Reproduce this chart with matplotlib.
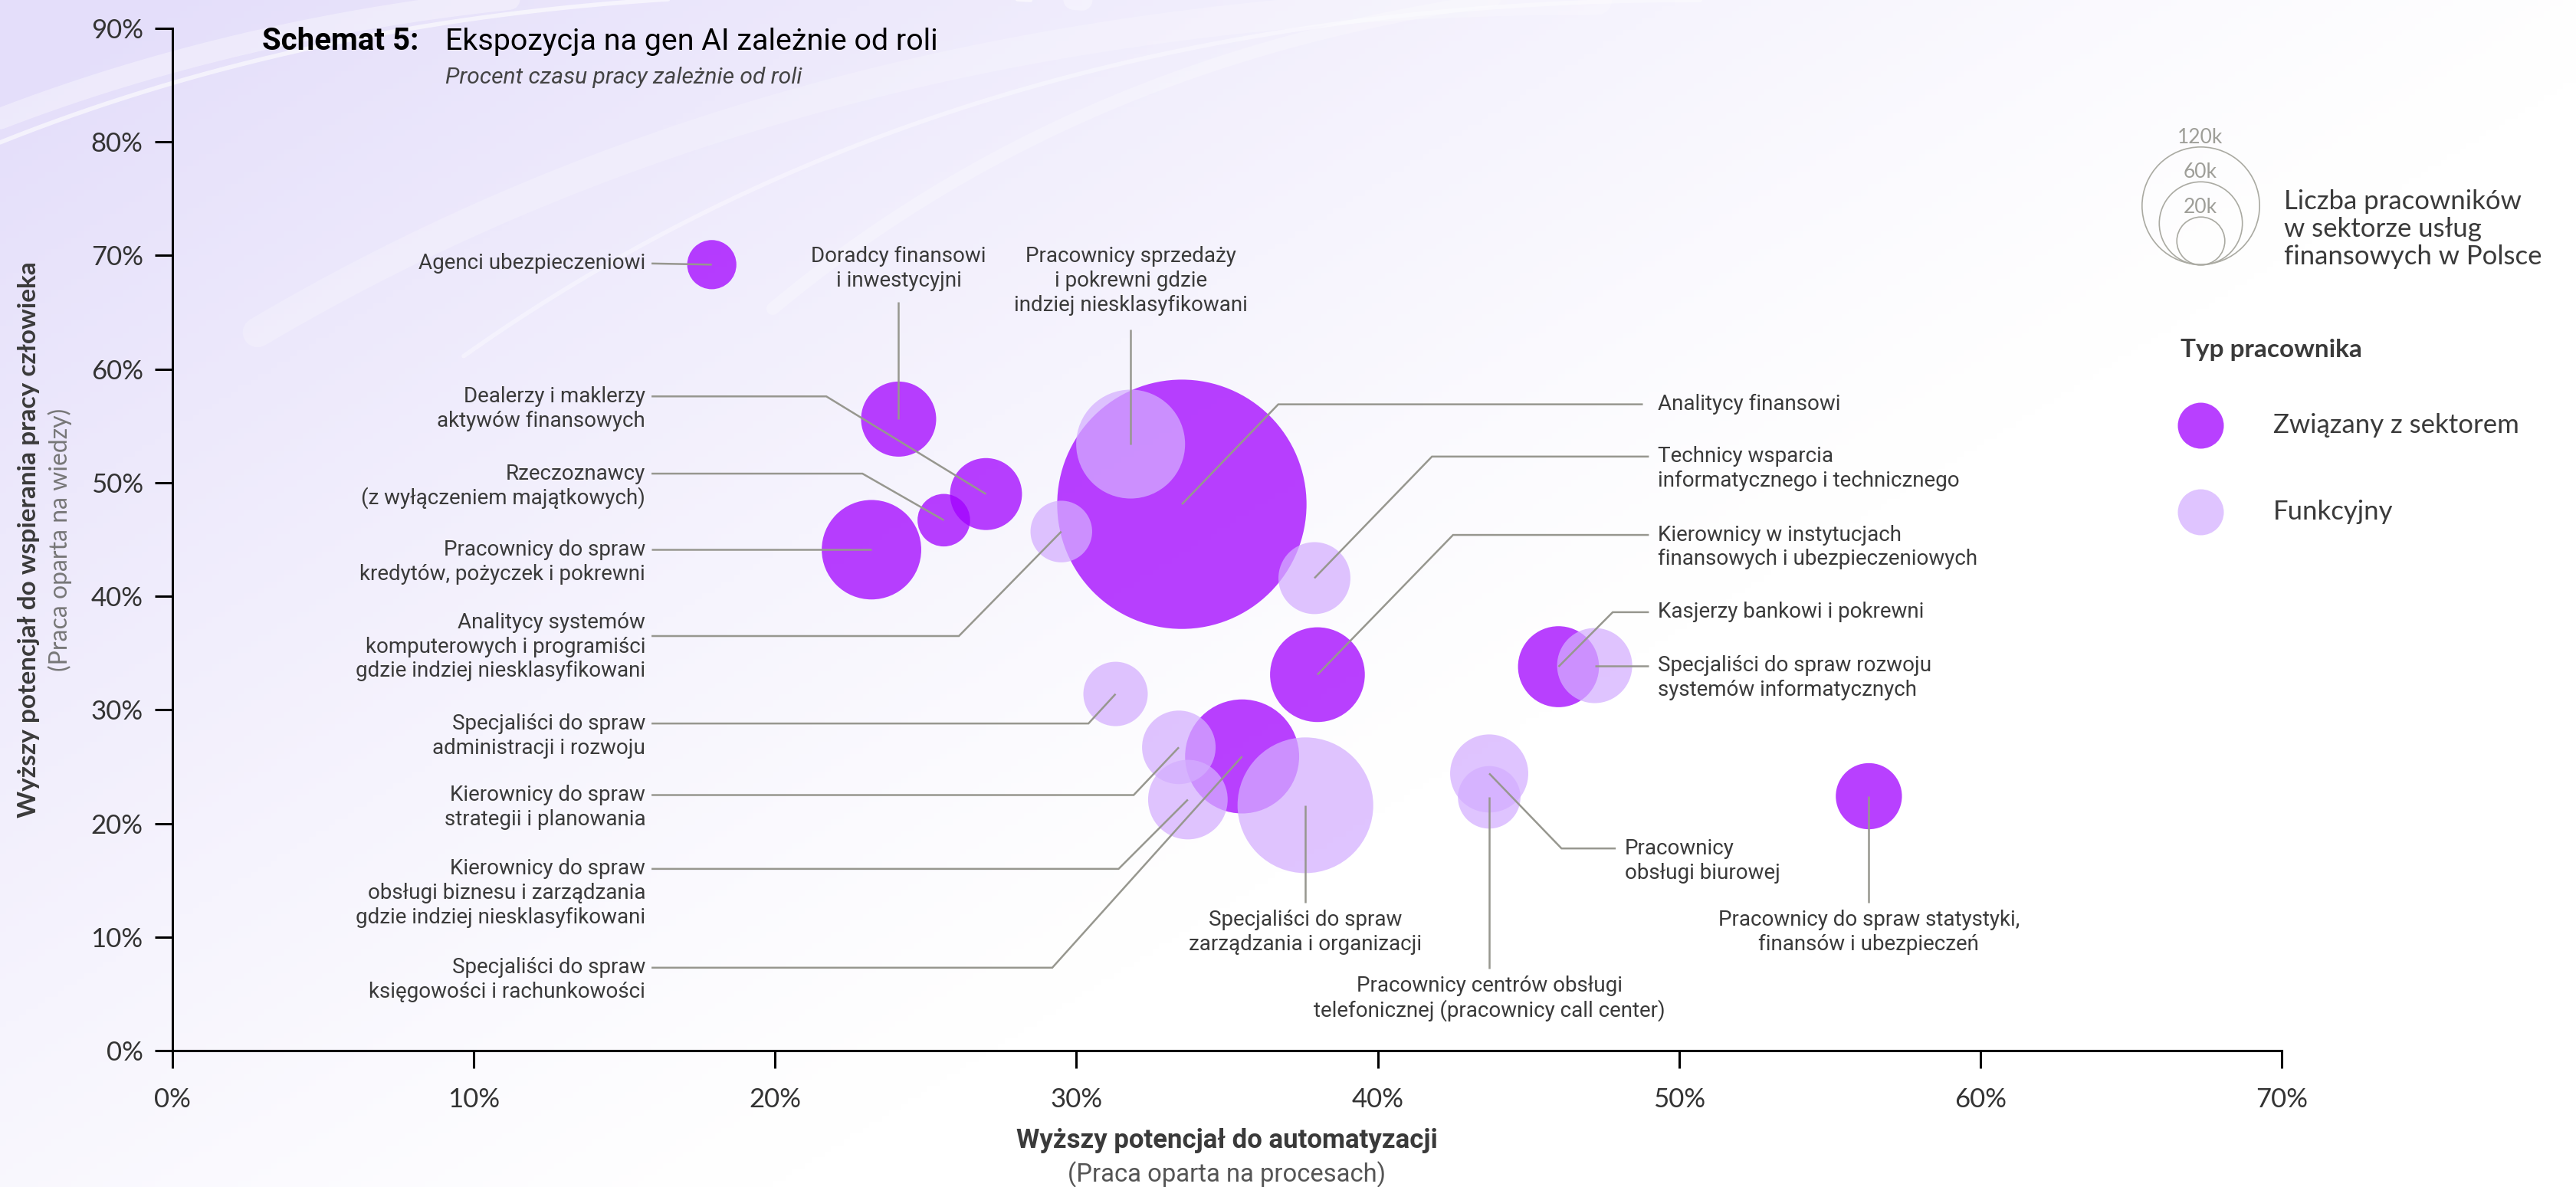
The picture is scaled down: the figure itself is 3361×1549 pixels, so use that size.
import numpy as np
import matplotlib.pyplot as plt
from matplotlib.ticker import FuncFormatter

#===============================================================================
# Data
#===============================================================================

roles = [
    'Agenci ubezpieczeniowi',
    'Doradcy finansowi\ni inwestycyjni',
    'Dealerzy i maklerzy\naktywów finansowych',
    'Rzeczoznawcy\n(z wyłączeniem majątkowych)',
    'Pracownicy do spraw\nkredytów, pożyczek i pokrewni',
    'Analitycy systemów\nkomputerowych i programiści\ngdzie indziej niesklasyfikowani',
    'Pracownicy sprzedaży\ni pokrewni gdzie\nindziej niesklasyfikowani',
    'Analitycy finansowi',
    'Technicy wsparcia\ninformatycznego i technicznego',
    'Kierownicy w instytucjach\nfinansowych i ubezpieczeniowych',
    'Kasjerzy bankowi i pokrewni',
    'Specjaliści do spraw rozwoju\nsystemów informatycznych',
    'Specjaliści do spraw\nadministracji i rozwoju',
    'Kierownicy do spraw\nstrategii i planowania',
    'Kierownicy do spraw\nobsługi biznesu i zarządzania\ngdzie indziej niesklasyfikowani',
    'Specjaliści do spraw\nksięgowości i rachunkowości',
    'Specjaliści do spraw\nzarządzania i organizacji',
    'Pracownicy\nobsługi biurowej',
    'Pracownicy centrów obsługi\ntelefonicznej (pracownicy call center)',
    'Pracownicy do spraw statystyki,\nfinansów i ubezpieczeń',
]

# % of work time: automation potential (x), augmentation potential (y)
automation   = [17.9, 24.1, 27.0, 25.6, 23.2, 29.5, 31.8, 33.5, 37.9, 38.0,
                46.0, 47.2, 31.3, 33.4, 33.7, 35.5, 37.6, 43.7, 43.7, 56.3]
augmentation = [69.2, 55.6, 49.0, 46.7, 44.1, 45.7, 53.4, 48.1, 41.6, 33.1,
                33.8, 33.9, 31.4, 26.7, 22.1, 25.9, 21.6, 24.4, 22.3, 22.4]
# number of workers (thousands)
workers_k    = [21, 49, 45, 24, 86, 33, 103, 540, 45, 78,
                57, 49, 36, 47, 55, 113, 160, 53, 34, 38]
# True = "Związany z sektorem", False = "Funkcyjny"
sector_related = [True, True, True, True, True, False, False, True, False, True,
                  True, False, False, False, False, True, False, False, False, True]

legend_sizes_k = [120, 60, 20]
legend_size_labels = ['120k', '60k', '20k']
type_labels = ['Związany z sektorem', 'Funkcyjny']

x_ticks = [0, 10, 20, 30, 40, 50, 60, 70]
y_ticks = [0, 10, 20, 30, 40, 50, 60, 70, 80, 90]

#===============================================================================
# Layout of the call-outs: text anchor (x, y of first line), alignment and the
# connector points leading to the bubble centre (all in data units)
#===============================================================================

callouts = [
    (15.7, 69.3, 'right',  [(15.9, 69.3)]),
    (24.1, 69.9, 'center', [(24.1, 65.9)]),
    (15.7, 57.6, 'right',  [(15.9, 57.6), (21.7, 57.6)]),
    (15.7, 50.8, 'right',  [(15.9, 50.8), (22.9, 50.8)]),
    (15.7, 44.1, 'right',  [(15.9, 44.1)]),
    (15.7, 37.7, 'right',  [(15.9, 36.5), (26.1, 36.5)]),
    (31.8, 69.9, 'center', [(31.8, 63.5)]),
    (49.3, 56.9, 'left',   [(48.8, 56.9), (36.7, 56.9)]),
    (49.3, 52.3, 'left',   [(49.0, 52.3), (41.8, 52.3)]),
    (49.3, 45.4, 'left',   [(49.0, 45.4), (42.5, 45.4)]),
    (49.3, 38.6, 'left',   [(49.0, 38.6), (47.8, 38.6)]),
    (49.3, 33.9, 'left',   [(49.0, 33.9)]),
    (15.7, 28.8, 'right',  [(15.9, 28.8), (30.4, 28.8)]),
    (15.7, 22.5, 'right',  [(15.9, 22.5), (31.9, 22.5)]),
    (15.7, 16.0, 'right',  [(15.9, 16.0), (31.4, 16.0)]),
    (15.7, 7.3,  'right',  [(15.9, 7.3), (29.2, 7.3)]),
    (37.6, 11.5, 'center', [(37.6, 13.0)]),
    (48.2, 17.8, 'left',   [(47.9, 17.8), (46.1, 17.8)]),
    (43.7, 5.7,  'center', [(43.7, 7.2)]),
    (56.3, 11.5, 'center', [(56.3, 13.0)]),
]

#===============================================================================
# Style
#===============================================================================

DPI = 200
W_PX, H_PX = 3361, 1549
DARK = '#A100FF'
LIGHT = '#D4AEFF'
TXT = '#3a3a3a'
LINE = '#97978f'
FONT = 'Roboto'
FONT2 = 'Lato'
SIZE_SCALE = 25.4          # marker area (pt^2) per thousand workers
LINE_GAP = 2.15            # distance between label lines (data units)

plt.rcParams['font.family'] = [FONT, 'DejaVu Sans']

fig = plt.figure(figsize=(W_PX / DPI, H_PX / DPI), dpi=DPI)

# background gradient (lavender top-left fading to white) with soft streaks
bg = fig.add_axes([0, 0, 1, 1], zorder=-10)
gx, gy = np.meshgrid(np.linspace(0, 1, 400), np.linspace(0, 1, 200))
w = np.clip(1.05 - 1.0 * gx - 0.75 * gy, 0, 1) ** 1.2
lav = np.array([228, 222, 250]) / 255.0
img = (1 - w[..., None]) * np.array([1.0, 1.0, 1.0]) + w[..., None] * lav
bg.imshow(img, aspect='auto', extent=[0, 1, 1, 0])
t = np.linspace(0, 1, 200)
for (x0, y0, x1, y1, bend, lw, al) in [(0.0, 0.10, 0.42, 0.0, 0.10, 10, 0.35),
                                       (0.0, 0.12, 0.40, 0.0, 0.09, 2, 0.6),
                                       (0.10, 0.28, 0.62, 0.0, 0.14, 14, 0.22),
                                       (0.18, 0.30, 0.66, 0.0, 0.15, 2, 0.4),
                                       (0.30, 0.26, 0.58, 0.0, 0.08, 6, 0.25)]:
    cxp, cyp = (x0 + x1) / 2 - bend * 0.3, (y0 + y1) / 2 - bend
    bx = (1 - t) ** 2 * x0 + 2 * (1 - t) * t * cxp + t ** 2 * x1
    by = (1 - t) ** 2 * y0 + 2 * (1 - t) * t * cyp + t ** 2 * y1
    bg.plot(bx, by, color='white', lw=lw, alpha=al, solid_capstyle='round')
bg.set_xlim(0, 1)
bg.set_ylim(1, 0)
bg.axis('off')

ax = fig.add_axes([0.06694, 0.1149, 0.8188, 0.8612])
ax.set_facecolor('none')

x = np.array(automation)
y = np.array(augmentation)
n = np.array(workers_k, dtype=float)
rel = np.array(sector_related)

ax.scatter(x[rel], y[rel], s=SIZE_SCALE * n[rel], color=DARK, alpha=0.75,
           linewidths=0, zorder=2, clip_on=False)
ax.scatter(x[~rel], y[~rel], s=SIZE_SCALE * n[~rel], color=LIGHT, alpha=0.73,
           linewidths=0, zorder=3, clip_on=False)

# call-outs
for i, (tx, ty, ha, pts) in enumerate(callouts):
    px = [p[0] for p in pts] + [x[i]]
    py = [p[1] for p in pts] + [y[i]]
    ax.plot(px, py, color=LINE, lw=0.9, zorder=4, clip_on=False,
            solid_capstyle='butt', solid_joinstyle='miter')
    for k, line in enumerate(roles[i].split('\n')):
        ax.text(tx, ty - k * LINE_GAP, line, ha=ha, va='center',
                fontsize=10, color=TXT, zorder=5)

# axes
ax.set_xlim(0, 70)
ax.set_ylim(0, 90)
ax.set_xticks(x_ticks)
ax.set_yticks(y_ticks)
pct = FuncFormatter(lambda v, p: '{:d}%'.format(int(v)))
ax.xaxis.set_major_formatter(pct)
ax.yaxis.set_major_formatter(pct)
for s in ['top', 'right']:
    ax.spines[s].set_visible(False)
for s in ['left', 'bottom']:
    ax.spines[s].set_linewidth(1.1)
    ax.spines[s].set_color('black')
ax.tick_params(axis='both', direction='out', length=8.3, width=1.1,
               colors='black', labelcolor='#333333', labelsize=12.5)
ax.tick_params(axis='y', pad=5.5)
ax.tick_params(axis='x', pad=9)
for lab in ax.get_xticklabels() + ax.get_yticklabels():
    lab.set_fontfamily([FONT2, 'DejaVu Sans'])

# axis titles
fig.text(0.0113, 0.5455, 'Wyższy potencjał do wspierania pracy człowieka',
         rotation=90, ha='center', va='center', fontsize=12,
         fontweight='bold', color=TXT, family=[FONT2, 'DejaVu Sans'])
fig.text(0.0232, 0.5455, '(Praca oparta na wiedzy)', rotation=90,
         ha='center', va='center', fontsize=11.5, color='#777777',
         family=[FONT2, 'DejaVu Sans'])
fig.text(0.4763, 0.0390, 'Wyższy potencjał do automatyzacji', ha='center',
         va='center', fontsize=12.5, fontweight='bold', color=TXT)
fig.text(0.4763, 0.0103, '(Praca oparta na procesach)', ha='center',
         va='center', fontsize=11.8, color='#555555')

# title
fig.text(0.1018, 0.9651, 'Schemat 5:', ha='left', va='center', fontsize=14.5,
         fontweight='bold', color='black')
fig.text(0.1729, 0.9651, 'Ekspozycja na gen AI zależnie od roli', ha='left',
         va='center', fontsize=14.2, color='black')
fig.text(0.1729, 0.9348, 'Procent czasu pracy zależnie od roli', ha='left',
         va='center', fontsize=10.8, style='italic', color='#444444')

# size legend (nested circles, bottom aligned)
cx, cb = 0.8542, 0.7773
for size_k, lab in zip(legend_sizes_k, legend_size_labels):
    s = SIZE_SCALE * size_k
    r_px = np.sqrt(s) / 2 * DPI / 72
    cy = cb + r_px / H_PX
    fig.add_artist(plt.Line2D([cx], [cy], marker='o', markersize=np.sqrt(s),
                              markerfacecolor='none', markeredgecolor='#aaaaa2',
                              markeredgewidth=0.6, transform=fig.transFigure))
    fig.text(cx, cb + (2 * r_px + 12) / H_PX, lab, ha='center', va='center',
             fontsize=9.5, color='#9e9e98', family=[FONT2, 'DejaVu Sans'])
fig.text(0.8866, 0.8405, 'Liczba pracowników\nw sektorze usług\nfinansowych w Polsce',
         ha='left', va='top', fontsize=12.5, color=TXT, linespacing=1.15,
         family=[FONT2, 'DejaVu Sans'])

# type legend
fig.text(0.8465, 0.7050, 'Typ pracownika', ha='left', va='center',
         fontsize=12, fontweight='bold', color=TXT, family=[FONT2, 'DejaVu Sans'])
dot_ms = 2 * 30 * 72 / DPI
for yy, col, al, lab in zip([0.6417, 0.5687], [DARK, LIGHT], [0.75, 0.73], type_labels):
    fig.add_artist(plt.Line2D([cx], [yy], marker='o', markersize=dot_ms,
                              markerfacecolor=col, markeredgewidth=0, alpha=al,
                              transform=fig.transFigure))
    fig.text(0.8825, yy, lab, ha='left', va='center', fontsize=12.5,
             color=TXT, family=[FONT2, 'DejaVu Sans'])

fig.savefig('out.png', dpi=DPI)
